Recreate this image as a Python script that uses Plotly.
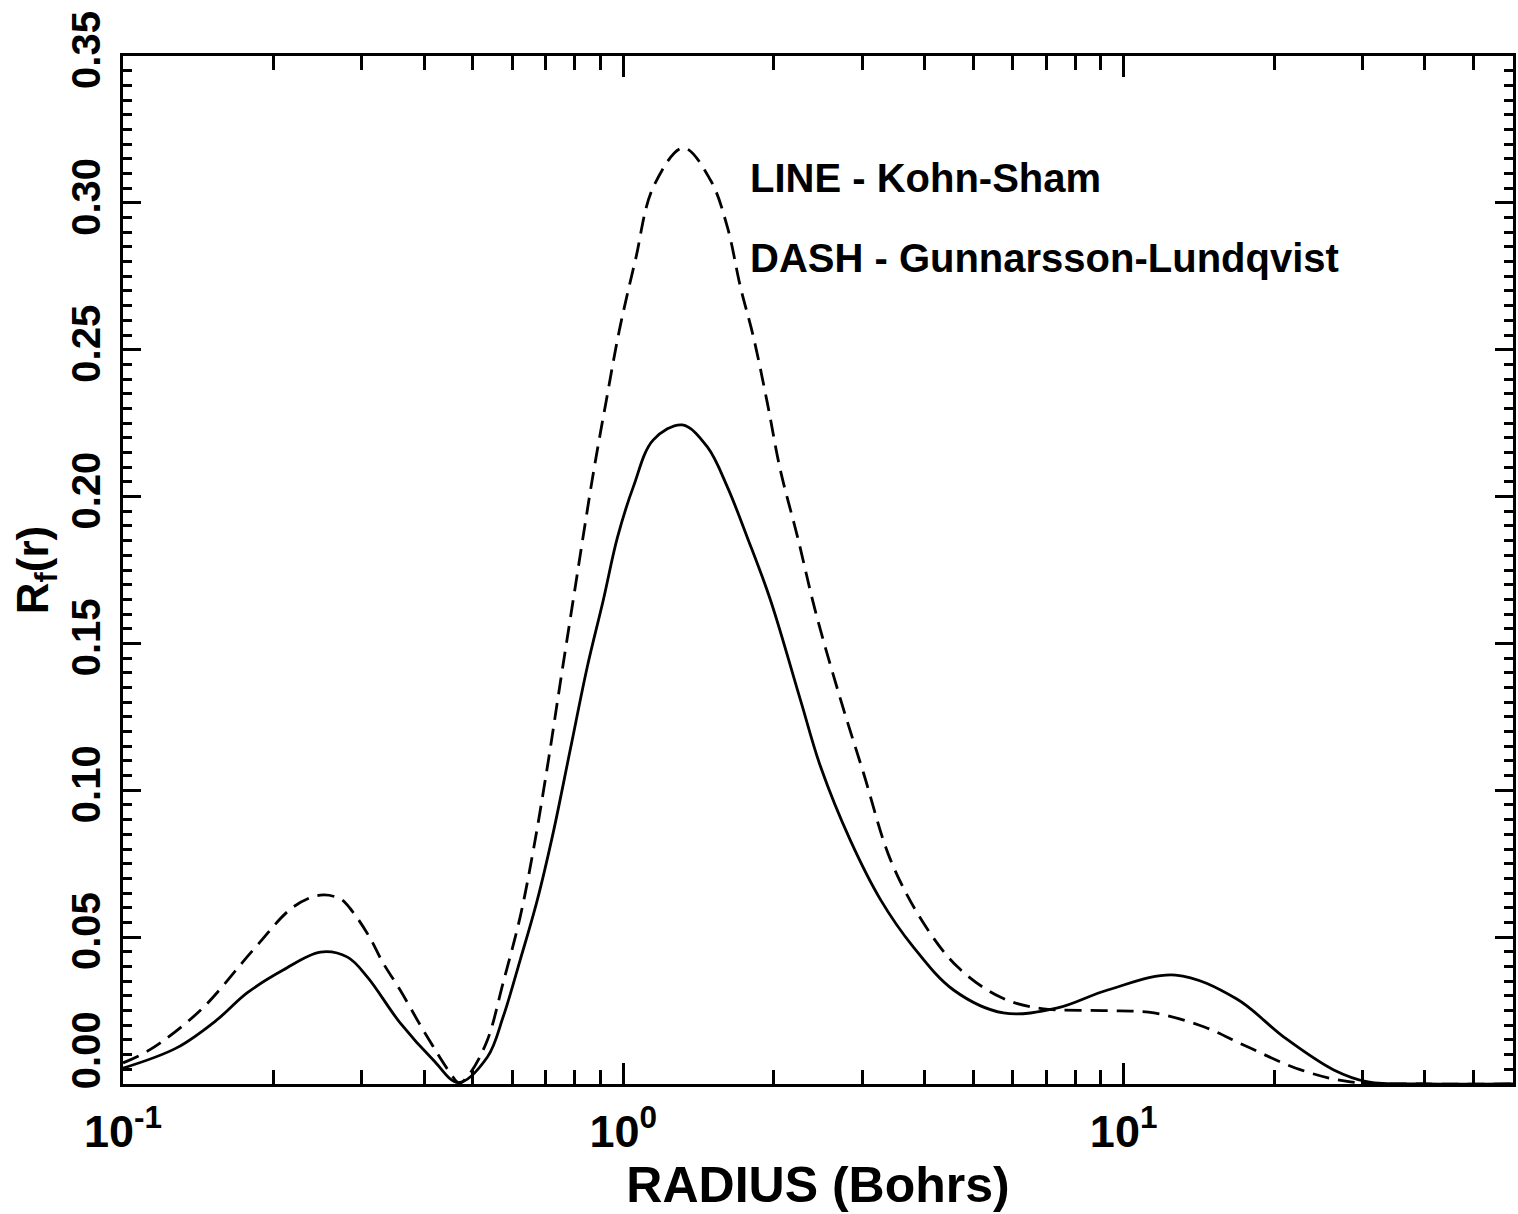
import math
import plotly.graph_objects as go

# Kohn-Sham (solid line)
ks_r = [0.100, 0.128, 0.154, 0.177, 0.209, 0.248, 0.281, 0.308, 0.358, 0.417, 0.468,
        0.535, 0.575, 0.622, 0.673, 0.724, 0.783, 0.847, 0.912, 0.973, 1.047, 1.148,
        1.312, 1.472, 1.614, 1.770, 1.968, 2.26, 2.48, 2.84, 3.27, 3.80, 4.57, 5.75,
        7.38, 9.29, 12.7, 16.8, 20.9, 26.3, 30.8, 40.0, 60.0]
ks_val = [0.0054, 0.0123, 0.0218, 0.0310, 0.0388, 0.0449, 0.0432, 0.0364, 0.0208, 0.0082, 0.0005,
          0.0092, 0.0228, 0.0422, 0.0626, 0.0855, 0.1137, 0.1420, 0.1648, 0.1860, 0.2033, 0.2193,
          0.2244, 0.2169, 0.2033, 0.1860, 0.1648, 0.1307, 0.1079, 0.0831, 0.0626, 0.0466, 0.0320, 0.0242,
          0.0259, 0.0320, 0.0371, 0.0290, 0.0160, 0.0048, 0.0007, 0.0, 0.0]

# Gunnarsson-Lundqvist (dashed line)
gl_r = [0.100, 0.113, 0.143, 0.182, 0.219, 0.248, 0.272, 0.287, 0.311, 0.331, 0.358, 0.398,
        0.451, 0.470, 0.494, 0.535, 0.575, 0.622, 0.661, 0.705, 0.748, 0.794, 0.832, 0.873,
        0.925, 0.982, 1.057, 1.148, 1.318, 1.493, 1.614, 1.714, 1.820, 1.940, 2.060, 2.23,
        2.42, 2.72, 3.02, 3.42, 3.98, 4.66, 5.68, 6.85, 9.1, 11.5, 14.5, 17.5, 22.6, 28.4,
        40.0, 60.0]
gl_val = [0.0072, 0.0116, 0.0252, 0.0456, 0.0603, 0.0643, 0.0630, 0.0589, 0.0500, 0.0412, 0.0320, 0.0184,
          0.0037, 0.0003, 0.0037, 0.0150, 0.0344, 0.0569, 0.0797, 0.1080, 0.1365, 0.1648, 0.1869, 0.2090,
          0.2329, 0.2567, 0.2805, 0.3054, 0.3187, 0.3078, 0.2918, 0.2714, 0.2543, 0.2319, 0.2090, 0.1862,
          0.1610, 0.1307, 0.1059, 0.0763, 0.0548, 0.0398, 0.0295, 0.0257, 0.0250, 0.0242, 0.0194, 0.0130,
          0.0048, 0.0007, 0.0, 0.0]

x_major = [0.1, 1, 10]
x_major_text = ["10<sup>-1</sup>", "10<sup>0</sup>", "10<sup>1</sup>"]
x_minor = [0.2, 0.3, 0.4, 0.5, 0.6, 0.7, 0.8, 0.9, 2, 3, 4, 5, 6, 7, 8, 9, 20, 30, 40, 50]
y_major = [0.00, 0.05, 0.10, 0.15, 0.20, 0.25, 0.30, 0.35]
y_major_text = ["\u00a0\u00a0\u00a0\u00a0\u00a00.00", "0.05", "0.10", "0.15", "0.20", "0.25", "0.30", "0.35"]

FONT = "Liberation Sans, Arial, Helvetica, sans-serif"

fig = go.Figure()
fig.add_trace(go.Scatter(x=ks_r, y=ks_val, mode="lines", name="Kohn-Sham", showlegend=False,
                         line=dict(color="black", width=2.8, shape="spline", smoothing=1.0)))
fig.add_trace(go.Scatter(x=gl_r, y=gl_val, mode="lines", name="Gunnarsson-Lundqvist", showlegend=False,
                         line=dict(color="black", width=2.8, dash="17px,9px", shape="spline", smoothing=1.0)))

fig.update_layout(
    width=1518, height=1214,
    margin=dict(l=123, r=5, t=56, b=130, autoexpand=False),
    plot_bgcolor="white", paper_bgcolor="white",
    font=dict(family=FONT, color="black"),
    xaxis=dict(
        type="log", range=[-1, math.log10(60)],
        showgrid=False, zeroline=False,
        showline=True, linecolor="black", linewidth=3, mirror="ticks",
        ticks="inside", ticklen=21, tickwidth=2.8, tickcolor="black",
        tickvals=x_major, ticktext=x_major_text,
        tickfont=dict(family=FONT, size=45, color="black", weight="bold"),
        ticklabelstandoff=6,
        minor=dict(tickvals=x_minor, ticks="inside", ticklen=14, tickwidth=2.8, tickcolor="black", showgrid=False),
        title=dict(text="RADIUS (Bohrs)", font=dict(family=FONT, size=50, color="black", weight="bold"), standoff=2),
    ),
    yaxis=dict(
        range=[0, 0.35],
        showgrid=False, zeroline=False,
        showline=True, linecolor="black", linewidth=3, mirror="ticks",
        ticks="inside", ticklen=18, tickwidth=2.8, tickcolor="black",
        tickvals=y_major, ticktext=y_major_text, tickangle=-90,
        tickfont=dict(family=FONT, size=40, color="black", weight="bold"),
        ticklabelstandoff=4,
        minor=dict(dtick=0.005, ticks="inside", ticklen=9, tickwidth=2.8, tickcolor="black", showgrid=False),
        title=dict(text="R<sub>f</sub>(r)", font=dict(family=FONT, size=44, color="black", weight="bold"), standoff=2),
    ),
    annotations=[
        dict(text="LINE - Kohn-Sham", xref="paper", yref="paper", x=0.4496, y=0.8814,
             xanchor="left", yanchor="middle", showarrow=False,
             font=dict(family=FONT, size=40, color="black", weight="bold")),
        dict(text="DASH - Gunnarsson-Lundqvist", xref="paper", yref="paper", x=0.4496, y=0.8037,
             xanchor="left", yanchor="middle", showarrow=False,
             font=dict(family=FONT, size=40, color="black", weight="bold")),
    ],
)

fig.write_html("out.html", config={"displayModeBar": False},
               post_script="document.body.style.margin='0px';")
